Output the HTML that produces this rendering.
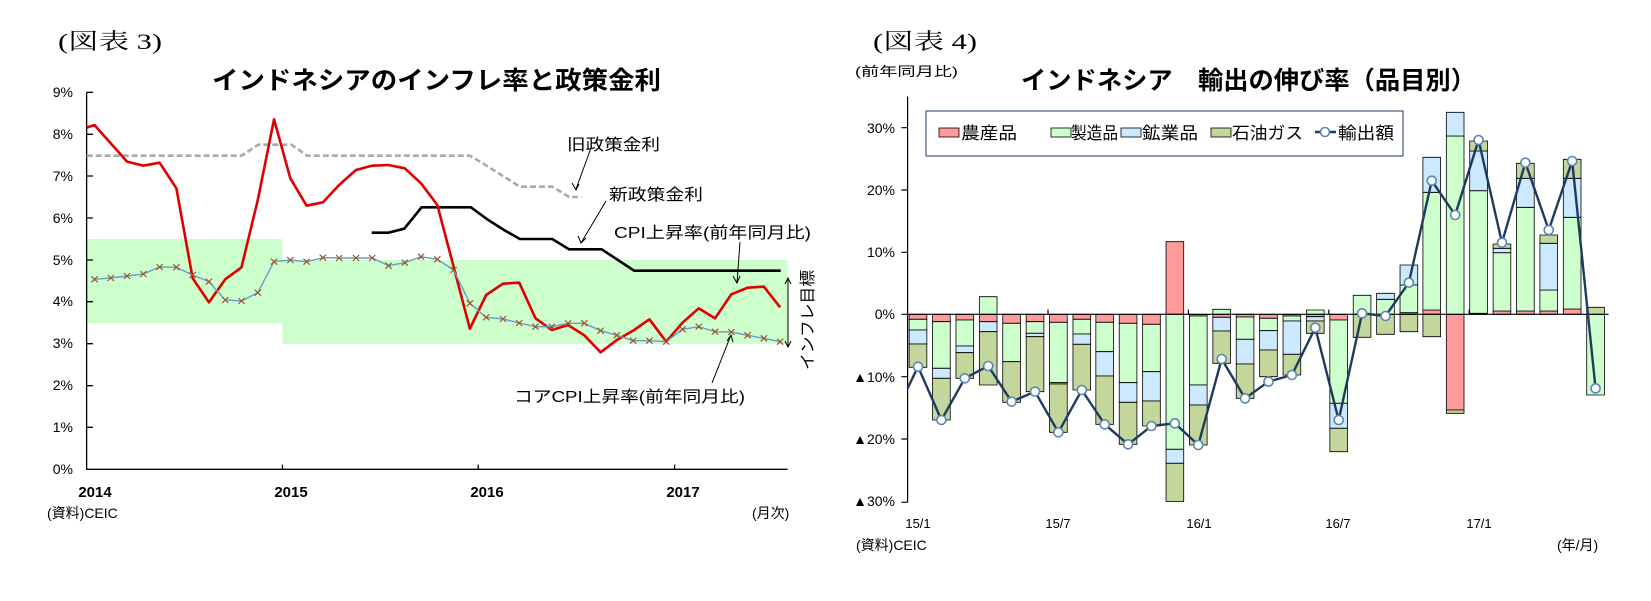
<!DOCTYPE html>
<html><head><meta charset="utf-8"><style>
html,body{margin:0;padding:0;background:#fff;}
svg{display:block;font-family:"Liberation Sans","Noto Sans CJK JP",sans-serif;}
</style></head><body>
<svg width="1651" height="601" viewBox="0 0 1651 601" xmlns="http://www.w3.org/2000/svg">
<rect width="1651" height="601" fill="#fff"/>
<!-- headers -->
<text x="58" y="49" font-family="'Liberation Serif','Noto Serif CJK SC',serif" font-size="22" textLength="104" lengthAdjust="spacingAndGlyphs">(図表 3)</text>
<text x="873" y="49" font-family="'Liberation Serif','Noto Serif CJK SC',serif" font-size="22" textLength="104" lengthAdjust="spacingAndGlyphs">(図表 4)</text>
<text x="212" y="89" font-size="25" font-weight="bold" textLength="449" lengthAdjust="spacingAndGlyphs">インドネシアのインフレ率と政策金利</text>
<text x="1021" y="89" font-size="25" font-weight="bold" textLength="455" lengthAdjust="spacingAndGlyphs">インドネシア　輸出の伸び率（品目別）</text>
<text x="855" y="76" font-size="13" textLength="103" lengthAdjust="spacingAndGlyphs">(前年同月比)</text>

<!-- LEFT CHART -->
<g transform="translate(0,60) scale(0.525,0.33333)">
<rect x="165" y="537" width="373" height="252" fill="#ccffcc"/>
<rect x="538" y="600" width="962" height="252" fill="#ccffcc"/>
<g stroke="#000" stroke-width="1.3" vector-effect="non-scaling-stroke" fill="none">
<path vector-effect="non-scaling-stroke" d="M165 97V1228H1500M165 1102h12M165 977h12M165 851h12M165 725h12M165 600h12M165 474h12M165 348h12M165 223h12M165 97h12M538 1228v-14M911 1228v-14M1285 1228v-14"/>
</g>
<polyline vector-effect="non-scaling-stroke" fill="none" stroke="#aaa" stroke-width="2.6" stroke-dasharray="6 3" points="165,287 460,287 492,254 555,254 585,287 895,287 928,318 960,350 990,380 1052,380 1084,411 1108,411"/>
<polyline vector-effect="non-scaling-stroke" fill="none" stroke="#000" stroke-width="2.6" points="708,518 740,518 770,506 803,442 897,442 928,478 960,510 990,537 1052,537 1084,568 1146,568 1208,632 1487,632"/>
<polyline vector-effect="non-scaling-stroke" fill="none" stroke="#e00000" stroke-width="2.6" stroke-linejoin="round" points="165,203 180,195 211,250 242,305 273,317 304,308 336,385 367,655 398,727 429,658 460,622 491,420 522,178 553,355 584,437 615,427 646,375 678,330 709,317 740,315 771,325 802,370 833,435 864,620 895,806 926,705 958,671 989,668 1020,775 1051,810 1082,795 1113,826 1144,877 1175,840 1206,812 1237,778 1269,845 1300,788 1331,745 1362,775 1393,703 1424,683 1455,680 1486,742"/>
<polyline id="core" vector-effect="non-scaling-stroke" fill="none" stroke="#6a9cc8" stroke-width="1.4" points="180,658 211,654 242,648 273,642 304,621 336,622 367,645 398,665 429,720 460,723 491,698 522,605 553,600 584,605 615,593 646,594 678,594 709,594 740,617 771,608 802,590 833,598 864,630 895,730 926,772 958,777 989,789 1020,800 1051,800 1082,790 1113,790 1144,812 1175,826 1206,842 1237,842 1269,845 1300,808 1331,800 1362,815 1393,816 1424,826 1455,835 1486,845"/>
<path vector-effect="non-scaling-stroke" fill="none" stroke="#a0522d" stroke-width="1.2" d="M174 649l12 18m0-18l-12 18 M205 645l12 18m0-18l-12 18 M236 639l12 18m0-18l-12 18 M267 633l12 18m0-18l-12 18 M298 612l12 18m0-18l-12 18 M330 613l12 18m0-18l-12 18 M361 636l12 18m0-18l-12 18 M392 656l12 18m0-18l-12 18 M423 711l12 18m0-18l-12 18 M454 714l12 18m0-18l-12 18 M485 689l12 18m0-18l-12 18 M516 596l12 18m0-18l-12 18 M547 591l12 18m0-18l-12 18 M578 596l12 18m0-18l-12 18 M609 584l12 18m0-18l-12 18 M640 585l12 18m0-18l-12 18 M672 585l12 18m0-18l-12 18 M703 585l12 18m0-18l-12 18 M734 608l12 18m0-18l-12 18 M765 599l12 18m0-18l-12 18 M796 581l12 18m0-18l-12 18 M827 589l12 18m0-18l-12 18 M858 621l12 18m0-18l-12 18 M889 721l12 18m0-18l-12 18 M920 763l12 18m0-18l-12 18 M952 768l12 18m0-18l-12 18 M983 780l12 18m0-18l-12 18 M1014 791l12 18m0-18l-12 18 M1045 791l12 18m0-18l-12 18 M1076 781l12 18m0-18l-12 18 M1107 781l12 18m0-18l-12 18 M1138 803l12 18m0-18l-12 18 M1169 817l12 18m0-18l-12 18 M1200 833l12 18m0-18l-12 18 M1231 833l12 18m0-18l-12 18 M1263 836l12 18m0-18l-12 18 M1294 799l12 18m0-18l-12 18 M1325 791l12 18m0-18l-12 18 M1356 806l12 18m0-18l-12 18 M1387 807l12 18m0-18l-12 18 M1418 817l12 18m0-18l-12 18 M1449 826l12 18m0-18l-12 18 M1480 836l12 18m0-18l-12 18"/>
</g>
<!-- left annotations -->
<g stroke="#000" stroke-width="1" fill="none">
<path d="M591 148L576 189M572 183l4 7 3-6"/>
<path d="M606 201L581 243M578 236l3 7 5-5"/>
<path d="M740 242L737 283M733 276l4 7 3-7"/>
<path d="M712 383L731 335M727 341l4-6 2 7"/>
<path d="M788 279V346M785 284l3-6 3 6M785 341l3 6 3-6"/>
</g>
<g font-size="16">
<text x="567" y="150" textLength="93" lengthAdjust="spacingAndGlyphs">旧政策金利</text>
<text x="609" y="200" textLength="94" lengthAdjust="spacingAndGlyphs">新政策金利</text>
<text x="614" y="238" textLength="197" lengthAdjust="spacingAndGlyphs">CPI上昇率(前年同月比)</text>
<text x="514" y="402" textLength="231" lengthAdjust="spacingAndGlyphs">コアCPI上昇率(前年同月比)</text>
<text transform="translate(813,370) rotate(-90)" textLength="100" lengthAdjust="spacingAndGlyphs">インフレ目標</text>
</g>
<g font-size="14" text-anchor="end">
<text x="73" y="474">0%</text><text x="73" y="432">1%</text><text x="73" y="390">2%</text><text x="73" y="348">3%</text><text x="73" y="306">4%</text><text x="73" y="265">5%</text><text x="73" y="223">6%</text><text x="73" y="181">7%</text><text x="73" y="139">8%</text><text x="73" y="97">9%</text>
</g>
<g font-size="15" font-weight="bold" text-anchor="middle">
<text x="95" y="497">2014</text><text x="291" y="497">2015</text><text x="487" y="497">2016</text><text x="683" y="497">2017</text>
</g>
<text x="47" y="518" font-size="14">(資料)CEIC</text>
<text x="752" y="518" font-size="14">(月次)</text>

<!-- RIGHT CHART -->
<g transform="translate(840,60) scale(0.52,0.33333)" stroke="#000" stroke-width="0.8">
<g fill="#ff9b9b"><rect vector-effect="non-scaling-stroke" x="133" y="763" width="34" height="15"/><rect vector-effect="non-scaling-stroke" x="178" y="763" width="34" height="22"/><rect vector-effect="non-scaling-stroke" x="223" y="763" width="34" height="17"/><rect vector-effect="non-scaling-stroke" x="268" y="763" width="34" height="22"/><rect vector-effect="non-scaling-stroke" x="313" y="763" width="34" height="27"/><rect vector-effect="non-scaling-stroke" x="358" y="763" width="34" height="22"/><rect vector-effect="non-scaling-stroke" x="403" y="763" width="34" height="24"/><rect vector-effect="non-scaling-stroke" x="448" y="763" width="34" height="15"/><rect vector-effect="non-scaling-stroke" x="492" y="763" width="34" height="24"/><rect vector-effect="non-scaling-stroke" x="537" y="763" width="34" height="27"/><rect vector-effect="non-scaling-stroke" x="582" y="763" width="34" height="30"/><rect vector-effect="non-scaling-stroke" x="627" y="545" width="34" height="218"/><rect vector-effect="non-scaling-stroke" x="672" y="763" width="34" height="5"/><rect vector-effect="non-scaling-stroke" x="717" y="763" width="34" height="9"/><rect vector-effect="non-scaling-stroke" x="762" y="763" width="34" height="8"/><rect vector-effect="non-scaling-stroke" x="807" y="763" width="34" height="12"/><rect vector-effect="non-scaling-stroke" x="852" y="763" width="34" height="5"/><rect vector-effect="non-scaling-stroke" x="897" y="763" width="34" height="7"/><rect vector-effect="non-scaling-stroke" x="942" y="763" width="34" height="17"/><rect vector-effect="non-scaling-stroke" x="1077" y="758" width="34" height="5"/><rect vector-effect="non-scaling-stroke" x="1121" y="750" width="34" height="13"/><rect vector-effect="non-scaling-stroke" x="1166" y="763" width="34" height="287"/><rect vector-effect="non-scaling-stroke" x="1211" y="760" width="34" height="3"/><rect vector-effect="non-scaling-stroke" x="1256" y="753" width="34" height="10"/><rect vector-effect="non-scaling-stroke" x="1301" y="753" width="34" height="10"/><rect vector-effect="non-scaling-stroke" x="1346" y="753" width="34" height="10"/><rect vector-effect="non-scaling-stroke" x="1391" y="747" width="34" height="16"/></g>
<g fill="#ccffcc"><rect vector-effect="non-scaling-stroke" x="133" y="778" width="34" height="32"/><rect vector-effect="non-scaling-stroke" x="178" y="785" width="34" height="140"/><rect vector-effect="non-scaling-stroke" x="223" y="780" width="34" height="78"/><rect vector-effect="non-scaling-stroke" x="268" y="710" width="34" height="53"/><rect vector-effect="non-scaling-stroke" x="313" y="790" width="34" height="115"/><rect vector-effect="non-scaling-stroke" x="358" y="785" width="34" height="35"/><rect vector-effect="non-scaling-stroke" x="403" y="787" width="34" height="181"/><rect vector-effect="non-scaling-stroke" x="448" y="778" width="34" height="44"/><rect vector-effect="non-scaling-stroke" x="492" y="787" width="34" height="88"/><rect vector-effect="non-scaling-stroke" x="537" y="790" width="34" height="178"/><rect vector-effect="non-scaling-stroke" x="582" y="793" width="34" height="142"/><rect vector-effect="non-scaling-stroke" x="627" y="763" width="34" height="405"/><rect vector-effect="non-scaling-stroke" x="672" y="768" width="34" height="207"/><rect vector-effect="non-scaling-stroke" x="717" y="748" width="34" height="15"/><rect vector-effect="non-scaling-stroke" x="762" y="771" width="34" height="67"/><rect vector-effect="non-scaling-stroke" x="807" y="775" width="34" height="37"/><rect vector-effect="non-scaling-stroke" x="852" y="768" width="34" height="15"/><rect vector-effect="non-scaling-stroke" x="897" y="750" width="34" height="13"/><rect vector-effect="non-scaling-stroke" x="942" y="780" width="34" height="250"/><rect vector-effect="non-scaling-stroke" x="987" y="706" width="34" height="57"/><rect vector-effect="non-scaling-stroke" x="1032" y="718" width="34" height="45"/><rect vector-effect="non-scaling-stroke" x="1077" y="675" width="34" height="83"/><rect vector-effect="non-scaling-stroke" x="1121" y="397" width="34" height="353"/><rect vector-effect="non-scaling-stroke" x="1166" y="228" width="34" height="535"/><rect vector-effect="non-scaling-stroke" x="1211" y="392" width="34" height="368"/><rect vector-effect="non-scaling-stroke" x="1256" y="578" width="34" height="175"/><rect vector-effect="non-scaling-stroke" x="1301" y="442" width="34" height="311"/><rect vector-effect="non-scaling-stroke" x="1346" y="690" width="34" height="63"/><rect vector-effect="non-scaling-stroke" x="1391" y="472" width="34" height="275"/><rect vector-effect="non-scaling-stroke" x="1436" y="763" width="34" height="242"/></g>
<g fill="#cce9ff"><rect vector-effect="non-scaling-stroke" x="133" y="810" width="34" height="42"/><rect vector-effect="non-scaling-stroke" x="178" y="925" width="34" height="30"/><rect vector-effect="non-scaling-stroke" x="223" y="858" width="34" height="20"/><rect vector-effect="non-scaling-stroke" x="268" y="785" width="34" height="30"/><rect vector-effect="non-scaling-stroke" x="358" y="820" width="34" height="10"/><rect vector-effect="non-scaling-stroke" x="403" y="968" width="34" height="4"/><rect vector-effect="non-scaling-stroke" x="448" y="822" width="34" height="31"/><rect vector-effect="non-scaling-stroke" x="492" y="875" width="34" height="73"/><rect vector-effect="non-scaling-stroke" x="537" y="968" width="34" height="59"/><rect vector-effect="non-scaling-stroke" x="582" y="935" width="34" height="88"/><rect vector-effect="non-scaling-stroke" x="627" y="1168" width="34" height="42"/><rect vector-effect="non-scaling-stroke" x="672" y="975" width="34" height="60"/><rect vector-effect="non-scaling-stroke" x="717" y="772" width="34" height="41"/><rect vector-effect="non-scaling-stroke" x="762" y="838" width="34" height="74"/><rect vector-effect="non-scaling-stroke" x="807" y="812" width="34" height="58"/><rect vector-effect="non-scaling-stroke" x="852" y="783" width="34" height="100"/><rect vector-effect="non-scaling-stroke" x="897" y="770" width="34" height="13"/><rect vector-effect="non-scaling-stroke" x="942" y="1030" width="34" height="75"/><rect vector-effect="non-scaling-stroke" x="1032" y="700" width="34" height="18"/><rect vector-effect="non-scaling-stroke" x="1077" y="615" width="34" height="60"/><rect vector-effect="non-scaling-stroke" x="1121" y="292" width="34" height="105"/><rect vector-effect="non-scaling-stroke" x="1166" y="157" width="34" height="71"/><rect vector-effect="non-scaling-stroke" x="1211" y="273" width="34" height="119"/><rect vector-effect="non-scaling-stroke" x="1256" y="565" width="34" height="13"/><rect vector-effect="non-scaling-stroke" x="1301" y="355" width="34" height="87"/><rect vector-effect="non-scaling-stroke" x="1346" y="550" width="34" height="140"/><rect vector-effect="non-scaling-stroke" x="1391" y="355" width="34" height="117"/></g>
<g fill="#c3d69b"><rect vector-effect="non-scaling-stroke" x="133" y="852" width="34" height="70"/><rect vector-effect="non-scaling-stroke" x="178" y="955" width="34" height="125"/><rect vector-effect="non-scaling-stroke" x="223" y="878" width="34" height="77"/><rect vector-effect="non-scaling-stroke" x="268" y="815" width="34" height="160"/><rect vector-effect="non-scaling-stroke" x="313" y="905" width="34" height="122"/><rect vector-effect="non-scaling-stroke" x="358" y="830" width="34" height="165"/><rect vector-effect="non-scaling-stroke" x="403" y="972" width="34" height="145"/><rect vector-effect="non-scaling-stroke" x="448" y="853" width="34" height="137"/><rect vector-effect="non-scaling-stroke" x="492" y="948" width="34" height="145"/><rect vector-effect="non-scaling-stroke" x="537" y="1027" width="34" height="126"/><rect vector-effect="non-scaling-stroke" x="582" y="1023" width="34" height="75"/><rect vector-effect="non-scaling-stroke" x="627" y="1210" width="34" height="115"/><rect vector-effect="non-scaling-stroke" x="672" y="1035" width="34" height="120"/><rect vector-effect="non-scaling-stroke" x="717" y="813" width="34" height="97"/><rect vector-effect="non-scaling-stroke" x="762" y="912" width="34" height="103"/><rect vector-effect="non-scaling-stroke" x="807" y="870" width="34" height="80"/><rect vector-effect="non-scaling-stroke" x="852" y="883" width="34" height="62"/><rect vector-effect="non-scaling-stroke" x="897" y="783" width="34" height="37"/><rect vector-effect="non-scaling-stroke" x="942" y="1105" width="34" height="70"/><rect vector-effect="non-scaling-stroke" x="987" y="763" width="34" height="69"/><rect vector-effect="non-scaling-stroke" x="1032" y="763" width="34" height="60"/><rect vector-effect="non-scaling-stroke" x="1077" y="763" width="34" height="52"/><rect vector-effect="non-scaling-stroke" x="1121" y="763" width="34" height="67"/><rect vector-effect="non-scaling-stroke" x="1166" y="1050" width="34" height="10"/><rect vector-effect="non-scaling-stroke" x="1211" y="243" width="34" height="30"/><rect vector-effect="non-scaling-stroke" x="1256" y="552" width="34" height="13"/><rect vector-effect="non-scaling-stroke" x="1301" y="310" width="34" height="45"/><rect vector-effect="non-scaling-stroke" x="1346" y="525" width="34" height="25"/><rect vector-effect="non-scaling-stroke" x="1391" y="298" width="34" height="57"/><rect vector-effect="non-scaling-stroke" x="1436" y="742" width="34" height="21"/></g>
<path vector-effect="non-scaling-stroke" fill="none" stroke="#000" stroke-width="1.2" d="M130 110V1327M118 203h12M118 390h12M118 577h12M118 763h12M118 950h12M118 1137h12M118 1327h12M130 763H1478M400 763v-14M670 763v-14M940 763v-14M1210 763v-14"/>
<polyline vector-effect="non-scaling-stroke" fill="none" stroke="#1f3a5f" stroke-width="2.4" stroke-linejoin="round" points="130,985 150,920 195,1080 240,955 285,918 330,1025 375,995 420,1117 465,990 509,1093 554,1153 599,1098 644,1090 689,1155 734,897 779,1015 824,965 869,945 914,803 959,1080 1004,760 1049,768 1094,668 1138,362 1183,465 1228,240 1273,548 1318,308 1363,510 1408,303 1453,985"/>
<g fill="#fff" stroke="#5a86b5" stroke-width="1.6"><ellipse vector-effect="non-scaling-stroke" cx="150" cy="920" rx="8.7" ry="13.5"/><ellipse vector-effect="non-scaling-stroke" cx="195" cy="1080" rx="8.7" ry="13.5"/><ellipse vector-effect="non-scaling-stroke" cx="240" cy="955" rx="8.7" ry="13.5"/><ellipse vector-effect="non-scaling-stroke" cx="285" cy="918" rx="8.7" ry="13.5"/><ellipse vector-effect="non-scaling-stroke" cx="330" cy="1025" rx="8.7" ry="13.5"/><ellipse vector-effect="non-scaling-stroke" cx="375" cy="995" rx="8.7" ry="13.5"/><ellipse vector-effect="non-scaling-stroke" cx="420" cy="1117" rx="8.7" ry="13.5"/><ellipse vector-effect="non-scaling-stroke" cx="465" cy="990" rx="8.7" ry="13.5"/><ellipse vector-effect="non-scaling-stroke" cx="509" cy="1093" rx="8.7" ry="13.5"/><ellipse vector-effect="non-scaling-stroke" cx="554" cy="1153" rx="8.7" ry="13.5"/><ellipse vector-effect="non-scaling-stroke" cx="599" cy="1098" rx="8.7" ry="13.5"/><ellipse vector-effect="non-scaling-stroke" cx="644" cy="1090" rx="8.7" ry="13.5"/><ellipse vector-effect="non-scaling-stroke" cx="689" cy="1155" rx="8.7" ry="13.5"/><ellipse vector-effect="non-scaling-stroke" cx="734" cy="897" rx="8.7" ry="13.5"/><ellipse vector-effect="non-scaling-stroke" cx="779" cy="1015" rx="8.7" ry="13.5"/><ellipse vector-effect="non-scaling-stroke" cx="824" cy="965" rx="8.7" ry="13.5"/><ellipse vector-effect="non-scaling-stroke" cx="869" cy="945" rx="8.7" ry="13.5"/><ellipse vector-effect="non-scaling-stroke" cx="914" cy="803" rx="8.7" ry="13.5"/><ellipse vector-effect="non-scaling-stroke" cx="959" cy="1080" rx="8.7" ry="13.5"/><ellipse vector-effect="non-scaling-stroke" cx="1004" cy="760" rx="8.7" ry="13.5"/><ellipse vector-effect="non-scaling-stroke" cx="1049" cy="768" rx="8.7" ry="13.5"/><ellipse vector-effect="non-scaling-stroke" cx="1094" cy="668" rx="8.7" ry="13.5"/><ellipse vector-effect="non-scaling-stroke" cx="1138" cy="362" rx="8.7" ry="13.5"/><ellipse vector-effect="non-scaling-stroke" cx="1183" cy="465" rx="8.7" ry="13.5"/><ellipse vector-effect="non-scaling-stroke" cx="1228" cy="240" rx="8.7" ry="13.5"/><ellipse vector-effect="non-scaling-stroke" cx="1273" cy="548" rx="8.7" ry="13.5"/><ellipse vector-effect="non-scaling-stroke" cx="1318" cy="308" rx="8.7" ry="13.5"/><ellipse vector-effect="non-scaling-stroke" cx="1363" cy="510" rx="8.7" ry="13.5"/><ellipse vector-effect="non-scaling-stroke" cx="1408" cy="303" rx="8.7" ry="13.5"/><ellipse vector-effect="non-scaling-stroke" cx="1453" cy="985" rx="8.7" ry="13.5"/></g>
</g>
<!-- right legend -->
<rect x="926" y="111" width="477" height="45" fill="#fff" stroke="#1f3a5f" stroke-width="1"/>
<g stroke="#000" stroke-width="0.8">
<rect x="939" y="128" width="20" height="9" fill="#ff9b9b"/>
<rect x="1051" y="128" width="20" height="9" fill="#ccffcc"/>
<rect x="1121" y="128" width="20" height="9" fill="#cce9ff"/>
<rect x="1211" y="128" width="20" height="9" fill="#c3d69b"/>
</g>
<path d="M1315 132H1336" stroke="#1f3a5f" stroke-width="2.4"/>
<circle cx="1325" cy="132" r="4.5" fill="#fff" stroke="#5a86b5" stroke-width="1.6"/>
<g font-size="17">
<text x="961" y="139" textLength="56" lengthAdjust="spacingAndGlyphs">農産品</text>
<text x="1071" y="139" textLength="47" lengthAdjust="spacingAndGlyphs">製造品</text>
<text x="1142" y="139" textLength="56" lengthAdjust="spacingAndGlyphs">鉱業品</text>
<text x="1232" y="139" textLength="71" lengthAdjust="spacingAndGlyphs">石油ガス</text>
<text x="1338" y="139" textLength="56" lengthAdjust="spacingAndGlyphs">輸出額</text>
</g>
<g font-size="14" text-anchor="end">
<text x="895" y="133">30%</text><text x="895" y="195">20%</text><text x="895" y="257">10%</text><text x="895" y="319">0%</text><text x="895" y="382">▲10%</text><text x="895" y="444">▲20%</text><text x="895" y="506">▲30%</text>
</g>
<g font-size="13" text-anchor="middle">
<text x="918" y="528">15/1</text><text x="1058" y="528">15/7</text><text x="1199" y="528">16/1</text><text x="1338" y="528">16/7</text><text x="1479" y="528">17/1</text>
</g>
<text x="856" y="550" font-size="14">(資料)CEIC</text>
<text x="1557" y="550" font-size="14">(年/月)</text>
</svg>
</body></html>
